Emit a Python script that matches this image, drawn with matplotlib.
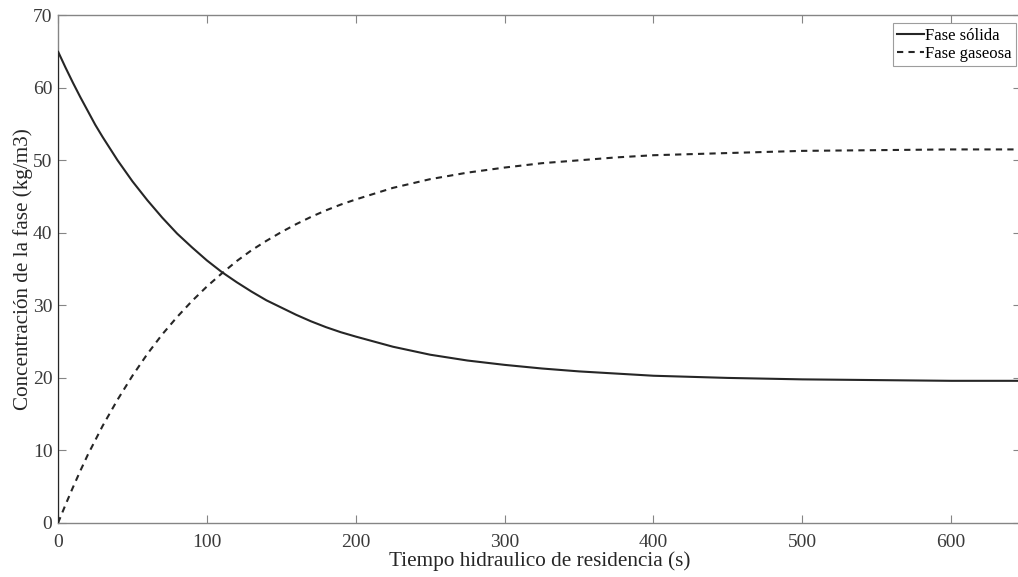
import matplotlib.pyplot as plt

# Data
t = [0, 0, 5, 10, 15, 20, 25, 30, 40, 50, 60, 70, 80, 90, 100, 110, 120, 130,
     140, 150, 160, 170, 180, 190, 200, 225, 250, 275, 300, 325, 350, 375,
     400, 450, 500, 550, 600, 650]
solida = [0, 65.0, 62.8, 60.7, 58.7, 56.8, 54.9, 53.2, 50.0, 47.1, 44.5, 42.1,
          39.9, 38.0, 36.2, 34.6, 33.2, 31.9, 30.7, 29.7, 28.7, 27.8, 27.0,
          26.3, 25.7, 24.3, 23.2, 22.4, 21.8, 21.3, 20.9, 20.6, 20.3, 20.0,
          19.8, 19.7, 19.6, 19.6]
gaseosa = [0, 0, 2.5, 4.9, 7.2, 9.4, 11.4, 13.4, 17.0, 20.3, 23.3, 26.0, 28.4,
           30.6, 32.6, 34.4, 36.1, 37.6, 38.9, 40.1, 41.2, 42.2, 43.1, 43.9,
           44.6, 46.2, 47.4, 48.3, 49.0, 49.6, 50.0, 50.4, 50.7, 51.0, 51.3,
           51.4, 51.5, 51.5]

plt.rcParams['font.family'] = ['Liberation Serif', 'DejaVu Serif']

fig = plt.figure(figsize=(10.18, 5.77), dpi=100)
ax = fig.add_axes([0.057, 0.0936, 0.946, 0.880])

ax.plot(t, solida, color='#262626', lw=1.5, zorder=3, label='Fase sólida')
ax.plot(t, gaseosa, color='#262626', lw=1.5, zorder=3, linestyle=(0, (3, 2.5)),
        label='Fase gaseosa')

ax.set_xlim(0, 647)
ax.set_ylim(0, 70)
ax.set_xticks([0, 100, 200, 300, 400, 500, 600])
ax.set_yticks(range(0, 71, 10))

for s in ax.spines.values():
    s.set_color('#858585')
    s.set_linewidth(1.0)
ax.tick_params(direction='in', top=True, right=True, length=6, width=0.8,
               color='#858585', labelcolor='#3a3a3a', labelsize=14)
ax.tick_params(axis='x', pad=8)
ax.tick_params(axis='y', pad=4)

ax.set_xlabel('Tiempo hidraulico de residencia (s)', fontsize=15.3, color='#262626', labelpad=0)
ax.set_ylabel('Concentración de la fase (kg/m3)', fontsize=15.2, color='#262626', labelpad=0)

leg = ax.legend(loc='upper right', bbox_to_anchor=(0.9948, 0.984), fontsize=12,
                frameon=True, fancybox=False, handlelength=1.6, handletextpad=0.1,
                borderpad=0.25, labelspacing=0.15, borderaxespad=0.0)
leg.get_frame().set_edgecolor('#858585')
leg.get_frame().set_linewidth(0.8)
leg.set_zorder(4)

fig.savefig('out.png', dpi=100)
